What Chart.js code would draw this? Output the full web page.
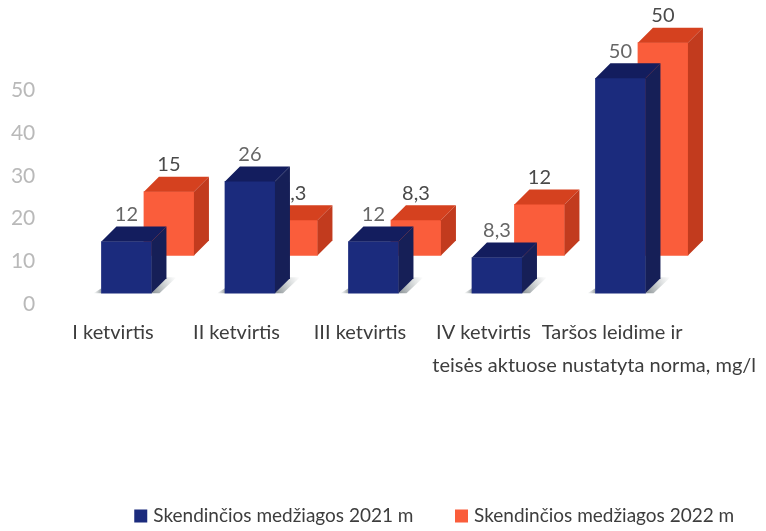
<!DOCTYPE html>
<html>
<head>
<meta charset="utf-8">
<style>html,body{margin:0;padding:0;background:#fff}canvas{display:block}</style>
<script src="https://cdn.jsdelivr.net/npm/chart.js@4/dist/chart.umd.min.js"></script>
</head>
<body>
<canvas id="c" width="766" height="531"></canvas>
<script>
const categories = [
  'I ketvirtis',
  'II ketvirtis',
  'III ketvirtis',
  'IV ketvirtis',
  ['  Taršos leidime ir', 'teisės aktuose nustatyta norma, mg/l     ']
];
const values2021 = [12, 26, 12, 8.3, 50];
const values2022 = [15, 8.3, 8.3, 12, 50];
const yTickValues = [0, 10, 20, 30, 40, 50];
const seriesNames = ['Skendinčios medžiagos 2021 m', 'Skendinčios medžiagos 2022 m'];

const FONT = 'Lato, Carlito, sans-serif';
const DEPTH = 15;

const faces = {
  0: {top: '#131d5e', side: '#161f57', label: '#666666'},
  1: {top: '#d5411f', side: '#c23b1e', label: '#4a4a4a'}
};

function poly(ctx, pts, fill) {
  ctx.beginPath();
  pts.forEach((p, i) => i ? ctx.lineTo(p[0], p[1]) : ctx.moveTo(p[0], p[1]));
  ctx.closePath();
  ctx.fillStyle = fill;
  ctx.fill();
}

const bars3d = {
  id: 'bars3d',
  beforeDatasetDraw(chart, args) {
    if (args.index !== 0) return;
    const ctx = chart.ctx;
    args.meta.data.forEach(bar => {
      const l = bar.x - bar.width / 2, r = bar.x + bar.width / 2, b = bar.base;
      const g = ctx.createLinearGradient(r, b, r + 26, b - 14);
      g.addColorStop(0, 'rgba(95,105,110,0.75)');
      g.addColorStop(1, 'rgba(150,160,160,0)');
      poly(ctx, [[r, b], [r + DEPTH, b - DEPTH - 1], [r + 25, b - 16], [r + 8, b]], g);
      const g2 = ctx.createLinearGradient(l - 8, b, l, b);
      g2.addColorStop(0, 'rgba(150,160,160,0)');
      g2.addColorStop(1, 'rgba(110,120,125,0.7)');
      poly(ctx, [[l - 8, b], [l, b - 5], [l, b]], g2);
    });
  },
  afterDatasetDraw(chart, args) {
    const ctx = chart.ctx;
    const f = faces[args.index];
    const vals = chart.data.datasets[args.index].data;
    args.meta.data.forEach((bar, i) => {
      const l = bar.x - bar.width / 2, r = bar.x + bar.width / 2, t = bar.y, b = bar.base;
      poly(ctx, [[l, t], [l + DEPTH, t - DEPTH], [r + DEPTH, t - DEPTH], [r, t]], f.top);
      poly(ctx, [[r, t], [r + DEPTH, t - DEPTH], [r + DEPTH, b - DEPTH], [r, b]], f.side);
      ctx.fillStyle = f.label;
      ctx.font = '20px ' + FONT;
      ctx.textAlign = 'center';
      ctx.textBaseline = 'middle';
      ctx.fillText(String(vals[i].y).replace('.', ','), bar.x, t - DEPTH - 12);
    });
  }
};

const moveLegend = {
  id: 'moveLegend',
  afterLayout(chart) {
    const lg = chart.legend;
    lg.left += 53; lg.right += 53;
    const h = lg.bottom - lg.top;
    lg.top = 461.6; lg.bottom = lg.top + h;
  }
};

new Chart(document.getElementById('c'), {
  type: 'bar',
  data: {
    datasets: [
      {label: seriesNames[0], data: values2021.map((v, i) => ({x: i, y: v})),
       xAxisID: 'xBlue', yAxisID: 'yBlue', backgroundColor: '#1b2b7d',
       barThickness: 50, borderWidth: 0, clip: false, grouped: false},
      {label: seriesNames[1], data: values2022.map((v, i) => ({x: i, y: v})),
       xAxisID: 'xRed', yAxisID: 'yRed', backgroundColor: '#fa5d3b',
       barThickness: 50, borderWidth: 0, clip: false, grouped: false}
    ]
  },
  options: {
    responsive: false,
    animation: false,
    layout: {padding: {top: 10, right: 0, left: 0, bottom: 0}},
    plugins: {
      tooltip: {enabled: false},
      legend: {
        position: 'bottom',
        labels: {
          boxWidth: 6, boxHeight: 6, padding: 45, color: '#3d3d3d',
          font: {family: FONT, size: 19},
          generateLabels(chart) {
            return Chart.defaults.plugins.legend.labels.generateLabels(chart).map(it => {
              it.lineWidth = 7;
              it.strokeStyle = it.fillStyle;
              return it;
            });
          }
        }
      }
    },
    scales: {
      x: {
        type: 'category', labels: categories, position: 'bottom', offset: true,
        grid: {display: false, drawTicks: false}, border: {display: false},
        ticks: {maxRotation: 0, minRotation: 0, autoSkip: false, padding: 5, color: '#3d3d3d',
                font: {family: FONT, size: 20, lineHeight: 33 / 20}},
        afterFit(s) { s.height = 145.8; s.paddingLeft = 0; s.paddingRight = 0; }
      },
      y: {
        type: 'linear', position: 'left', min: -1.643, max: 68.78,
        grid: {display: false, drawTicks: false}, border: {display: false},
        afterBuildTicks(s) { s.ticks = yTickValues.map(v => ({value: v})); },
        ticks: {padding: 16, color: '#b9b9b9', font: {family: FONT, size: 21}},
        afterFit(s) { s.width = 51.25; s.paddingTop = 0; s.paddingBottom = 0; }
      },
      xBlue: {type: 'linear', axis: 'x', display: false, offset: false, min: -0.609, max: 4.391},
      xRed: {type: 'linear', axis: 'x', display: false, offset: false, min: -0.953, max: 4.047},
      yBlue: {type: 'linear', axis: 'y', display: false, min: -4.206, max: 65.89},
      yRed: {
        type: 'linear', axis: 'y', position: 'right', min: -13.09, max: 57.67,
        grid: {display: false, drawTicks: false}, border: {display: false},
        ticks: {display: false},
        afterFit(s) { s.width = 97.25; s.paddingTop = 0; s.paddingBottom = 0; }
      }
    }
  },
  plugins: [bars3d, moveLegend]
});
</script>
</body>
</html>
